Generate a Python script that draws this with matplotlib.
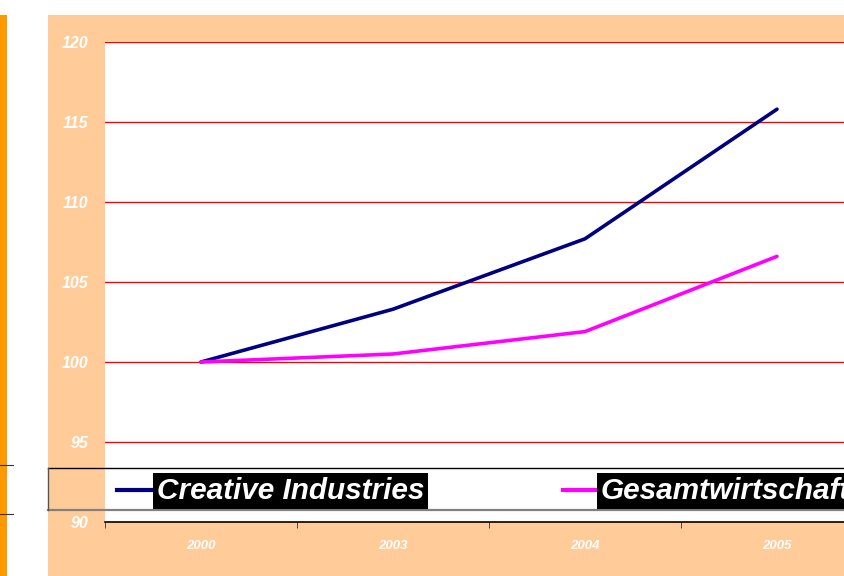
import matplotlib
matplotlib.use("Agg")
import matplotlib.pyplot as plt
from matplotlib.lines import Line2D
from matplotlib.patches import Rectangle

YEARS = ["2000", "2003", "2004", "2005"]
CREATIVE = [100.0, 103.3, 107.7, 115.8]
GESAMT = [100.0, 100.5, 101.9, 106.6]
SERIES_NAMES = ["Creative Industries", "Gesamtwirtschaft"]
SERIES_COLORS = ["#000080", "#FF00FF"]
Y_TICKS = [90, 95, 100, 105, 110, 115, 120]

W, H = 845, 576
PEACH = "#FFCC99"
ORANGE = "#FF9900"
FONT = "Liberation Sans"


def fx(px):
    return px / W


def fy(py):
    return 1 - py / H


fig = plt.figure(figsize=(W / 100, H / 100), dpi=100)
fig.patch.set_facecolor("white")

# background panels
fig.patches.append(Rectangle((fx(48), 0), 1 - fx(48), fy(15), transform=fig.transFigure,
                             facecolor=PEACH, edgecolor="none", zorder=-10))
fig.patches.append(Rectangle((0, 0), fx(7), fy(15), transform=fig.transFigure,
                             facecolor=ORANGE, edgecolor="none", zorder=-10))

ax = fig.add_axes([fx(105), 54 / H, 768 / W, 480 / H])
ax.set_facecolor("white")
ax.set_zorder(1)

x = list(range(len(YEARS)))
ax.plot(x, CREATIVE, color=SERIES_COLORS[0], lw=2.6, zorder=3, solid_capstyle="round")
ax.plot(x, GESAMT, color=SERIES_COLORS[1], lw=2.6, zorder=3, solid_capstyle="round")

ax.set_xlim(-0.5, len(YEARS) - 0.5)
ax.set_ylim(90, 120)
ax.set_yticks(Y_TICKS)
ax.set_yticklabels([str(v) for v in Y_TICKS])
for yv in Y_TICKS[1:]:
    ax.axhline(yv, color="#FF0000", lw=1.0, zorder=1)

ax.set_xticks(x)
ax.set_xticklabels(YEARS)
ax.set_xticks([i - 0.5 for i in range(len(YEARS) + 1)], minor=True)
ax.tick_params(axis="x", which="major", length=0, pad=13)
ax.tick_params(axis="x", which="minor", length=4, color="#333333", direction="out")
ax.tick_params(axis="y", length=0, pad=12)

for lab in ax.get_xticklabels():
    lab.set(color="white", fontsize=9.5, fontweight="bold", fontstyle="italic", family=FONT)
for lab in ax.get_yticklabels():
    lab.set(color="white", fontsize=11.5, fontweight="bold", fontstyle="italic", family=FONT)

for side in ["top", "right", "left"]:
    ax.spines[side].set_visible(False)
ax.spines["bottom"].set_color("black")
ax.spines["bottom"].set_linewidth(1.2)

# legend frame (open on the right, cut by the figure edge)
legend_artists = [
    Line2D([fx(48), 1], [fy(468), fy(468)], color="black", lw=1.0),
    Line2D([fx(48), 1], [fy(510), fy(510)], color="#808080", lw=1.6),
    Line2D([fx(48), fx(48)], [fy(468), fy(510)], color="#555555", lw=1.0),
    Line2D([0, fx(13)], [fy(465), fy(465)], color="#333333", lw=0.8),
    Line2D([0, fx(13)], [fy(514), fy(514)], color="#333333", lw=0.8),
]

legend_pos = [(117, 151, 157), (563, 597, 601)]
for (x0, x1, tx), name, col in zip(legend_pos, SERIES_NAMES, SERIES_COLORS):
    legend_artists.append(Line2D([fx(x0), fx(x1)], [fy(490), fy(490)], color=col, lw=3.0))
    t = fig.text(fx(tx), fy(491), name, color="white", fontsize=21.4, fontweight="bold",
                 fontstyle="italic", family=FONT, va="center", ha="left",
                 bbox=dict(facecolor="black", edgecolor="none", pad=2.8))
    t.set_zorder(5)

for art in legend_artists:
    art.set_zorder(5)
    fig.add_artist(art)

fig.savefig("out.png", dpi=100)
